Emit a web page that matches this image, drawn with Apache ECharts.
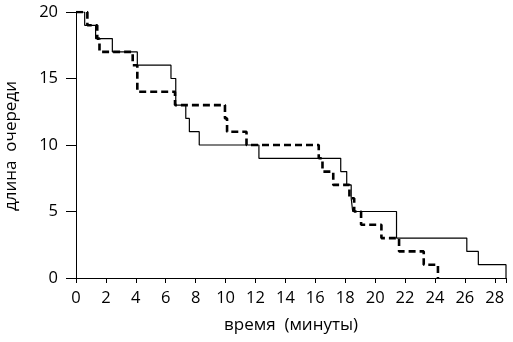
<!DOCTYPE html>
<html>
<head>
<meta charset="utf-8">
<script src="https://cdn.jsdelivr.net/npm/echarts@6/dist/echarts.min.js"></script>
<style>html,body{margin:0;padding:0;background:#fff}#c{width:513px;height:342px}</style>
</head>
<body>
<div id="c"></div>
<script>
// Data
const solidTime = [0, 0.58, 1.31, 2.43, 4.1, 6.35, 6.67, 7.34, 7.58, 8.24, 12.23, 17.7, 18.1, 18.4, 18.5, 21.43, 26.13, 26.9, 28.75];
const solidLen  = [20, 19, 18, 17, 16, 15, 13, 12, 11, 10, 9, 8, 7, 6, 5, 3, 2, 1, 0];
const dashTime  = [0, 0.76, 1.42, 1.57, 3.79, 4.1, 6.62, 9.96, 10.1, 11.4, 16.23, 16.48, 17.2, 18.28, 18.6, 19.06, 20.42, 21.6, 23.25, 24.2];
const dashLen   = [20, 19, 18, 17, 16, 14, 13, 12, 11, 10, 9, 8, 7, 6, 5, 4, 3, 2, 1, 0];
const xTicks = [0, 2, 4, 6, 8, 10, 12, 14, 16, 18, 20, 22, 24, 26, 28];
const yTicks = [0, 5, 10, 15, 20];
const xMax = 28.75;
const yMin = -0.15, yMax = 20;
const xName = 'время  (минуты)';
const yName = 'длина  очереди';

const zip = (a, b) => a.map((v, i) => [v, b[i]]);
const font = '"Open Sans", sans-serif';
const chart = echarts.init(document.getElementById('c'), null, {renderer: 'canvas'});
chart.setOption({
  animation: false,
  backgroundColor: '#fff',
  grid: {left: 76, right: 7, top: 12, bottom: 62, containLabel: false, outerBoundsMode: 'none'},
  xAxis: {
    type: 'value', min: 0, max: xMax,
    name: xName, nameLocation: 'middle', nameGap: 37,
    nameTextStyle: {fontFamily: font, fontSize: 17, color: '#000'},
    axisLine: {lineStyle: {color: '#000', width: 1}},
    axisTick: {show: true, length: 5, customValues: xTicks.concat([xMax]), lineStyle: {color: '#000'}},
    axisLabel: {customValues: xTicks, margin: 10, fontFamily: font, fontSize: 16.5, color: '#000'},
    splitLine: {show: false}
  },
  yAxis: {
    type: 'value', min: yMin, max: yMax,
    name: yName, nameLocation: 'middle', nameGap: 56,
    nameTextStyle: {fontFamily: font, fontSize: 17, color: '#000'},
    axisLine: {show: true, lineStyle: {color: '#000', width: 1}},
    axisTick: {show: true, length: 10, customValues: yTicks, lineStyle: {color: '#000'}},
    axisLabel: {customValues: yTicks, margin: 18, fontFamily: font, fontSize: 16.5, color: '#000'},
    splitLine: {show: false}
  },
  series: [
    {
      type: 'line', step: 'end', data: zip(solidTime, solidLen),
      symbol: 'none', lineStyle: {color: '#000', width: 1.2}, z: 3
    },
    {
      type: 'line', step: 'end', data: zip(dashTime, dashLen),
      symbol: 'none', lineStyle: {color: '#000', width: 2.6, type: [7, 4]}, z: 4
    }
  ]
});
</script>
</body>
</html>
